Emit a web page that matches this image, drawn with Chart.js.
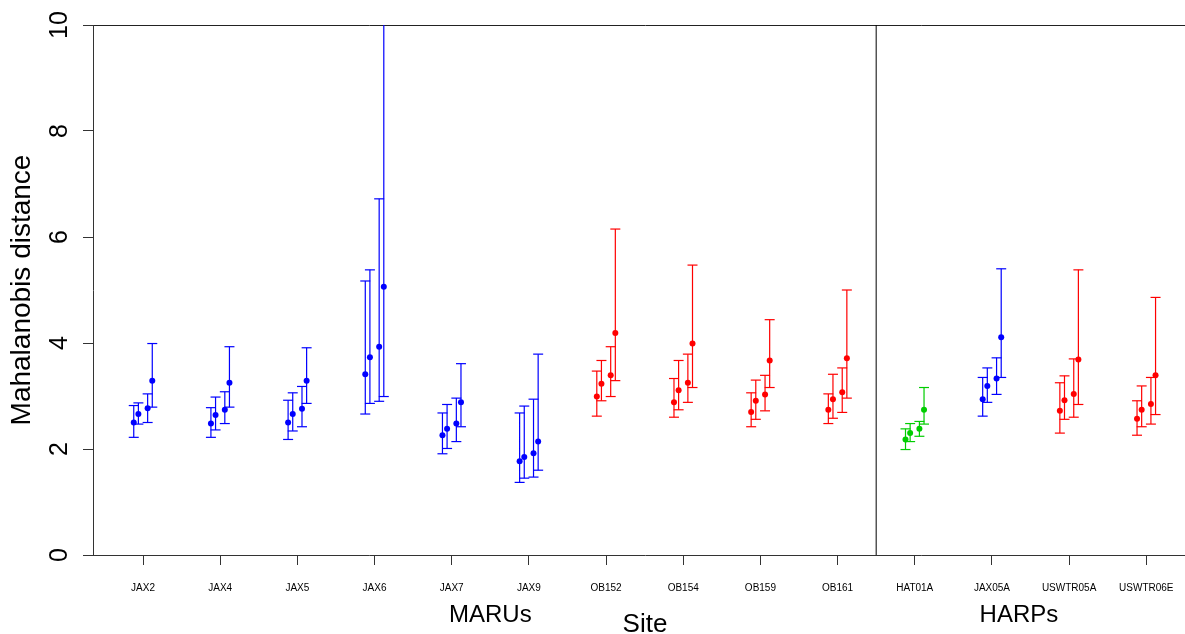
<!DOCTYPE html>
<html>
<head>
<meta charset="utf-8">
<script src="https://cdn.jsdelivr.net/npm/chart.js@4/dist/chart.umd.min.js"></script>
<style>
  html, body { margin: 0; padding: 0; background: #ffffff; overflow: hidden; }
  #wrap { width: 1197px; height: 634px; }
</style>
</head>
<body>
<div id="wrap"><canvas id="c" width="1197" height="634"></canvas></div>
<script>
// ---- data ----
const sites = ['JAX2','JAX4','JAX5','JAX6','JAX7','JAX9','OB152','OB154','OB159','OB161','HAT01A','JAX05A','USWTR05A','USWTR06E'];
const siteColors = ['#0000FF','#0000FF','#0000FF','#0000FF','#0000FF','#0000FF',
                    '#FF0000','#FF0000','#FF0000','#FF0000',
                    '#00CD00','#0000FF','#FF0000','#FF0000'];
const means = [
  [2.50, 2.66, 2.77, 3.29],
  [2.48, 2.64, 2.74, 3.25],
  [2.50, 2.66, 2.76, 3.29],
  [3.41, 3.73, 3.93, 5.06],
  [2.26, 2.38, 2.48, 2.88],
  [1.77, 1.85, 1.92, 2.14],
  [2.99, 3.23, 3.39, 4.19],
  [2.88, 3.11, 3.25, 3.99],
  [2.70, 2.91, 3.03, 3.67],
  [2.74, 2.94, 3.07, 3.71],
  [2.18, 2.30, 2.38, 2.74],
  [2.94, 3.19, 3.33, 4.11],
  [2.72, 2.92, 3.04, 3.69],
  [2.57, 2.74, 2.85, 3.39]
];
const lows = [
  [2.22, 2.47, 2.50, 2.79],
  [2.22, 2.36, 2.48, 2.79],
  [2.18, 2.34, 2.42, 2.86],
  [2.66, 2.86, 2.90, 2.99],
  [1.91, 2.01, 2.14, 2.42],
  [1.37, 1.45, 1.47, 1.60],
  [2.62, 2.91, 2.99, 3.29],
  [2.60, 2.74, 2.88, 3.16],
  [2.42, 2.56, 2.72, 3.16],
  [2.48, 2.58, 2.69, 2.96],
  [1.99, 2.14, 2.24, 2.47],
  [2.62, 2.88, 3.03, 3.35],
  [2.30, 2.56, 2.60, 2.84],
  [2.26, 2.42, 2.47, 2.65]
];
const highs = [
  [2.82, 2.87, 3.04, 3.99],
  [2.78, 2.98, 3.08, 3.93],
  [2.92, 3.06, 3.18, 3.91],
  [5.17, 5.38, 6.72, 12.5],
  [2.68, 2.84, 2.96, 3.61],
  [2.68, 2.81, 2.94, 3.79],
  [3.47, 3.67, 3.93, 6.15],
  [3.33, 3.67, 3.79, 5.47],
  [3.06, 3.30, 3.39, 4.44],
  [3.04, 3.41, 3.53, 5.00],
  [2.38, 2.48, 2.52, 3.16],
  [3.35, 3.53, 3.72, 5.40],
  [3.25, 3.38, 3.70, 5.38],
  [2.91, 3.19, 3.35, 4.86]
];
const groupLabels = ['MARUs', 'HARPs'];
const groupCenters = [4.5, 11.35];
const dividerAt = 9.5;
const yTicks = [0, 2, 4, 6, 8, 10];

// ---- build datasets ----
const offsets = [-0.12, -0.06, 0.06, 0.12];
const X_MIN = -0.648, X_MAX = 13.657;
const colorsUsed = [...new Set(siteColors)];
const whiskerSets = [], capSets = [], meanSets = [];
colorsUsed.forEach(col => {
  const w = [], caps = [], pts = [];
  sites.forEach((s, i) => {
    if (siteColors[i] !== col) return;
    for (let j = 0; j < 4; j++) {
      const x = i + offsets[j];
      w.push({x: x, y: lows[i][j]}, {x: x, y: highs[i][j]}, {x: x, y: null});
      caps.push({x: x, y: lows[i][j]}, {x: x, y: highs[i][j]});
      pts.push({x: x, y: means[i][j]});
    }
  });
  whiskerSets.push({type: 'line', data: w, borderColor: col, borderWidth: 1.2, pointRadius: 0, spanGaps: false, fill: false, tension: 0, order: 3});
  capSets.push({type: 'scatter', data: caps, pointStyle: 'line', pointRadius: 5, pointBorderWidth: 1.2, borderColor: col, backgroundColor: col, order: 2});
  meanSets.push({type: 'scatter', data: pts, pointStyle: 'circle', pointRadius: 3, pointBorderWidth: 0, borderColor: col, backgroundColor: col, order: 1});
});
const divider = {type: 'line', data: [{x: dividerAt, y: 0}, {x: dividerAt, y: 10}], borderColor: '#000000', borderWidth: 1, pointRadius: 0, order: 4};

const FONT = "'Liberation Sans', Arial, Helvetica, sans-serif";
const noSidePad = (sc) => { sc.paddingLeft = 0; sc.paddingRight = 0; };

new Chart(document.getElementById('c'), {
  type: 'scatter',
  data: { datasets: [divider, ...whiskerSets, ...capSets, ...meanSets] },
  options: {
    responsive: false,
    devicePixelRatio: 1,
    animation: false,
    events: [],
    layout: { autoPadding: false, padding: { top: 25, left: 0, right: 0, bottom: 0 } },
    plugins: { legend: { display: false }, tooltip: { enabled: false } },
    scales: {
      x: {
        type: 'linear', position: 'bottom', weight: 0,
        min: X_MIN, max: X_MAX,
        afterBuildTicks: (sc) => { sc.ticks = sites.map((_, i) => ({value: i})); },
        afterFit: (sc) => { sc.height = 40; noSidePad(sc); },
        grid: { drawOnChartArea: false, drawTicks: true, tickLength: 10, tickColor: '#333333', tickWidth: 1 },
        border: { display: true, color: '#333333', width: 1 },
        ticks: { autoSkip: false, maxRotation: 0, minRotation: 0, padding: 17, color: '#000000',
                 font: { family: FONT, size: 10, lineHeight: 1.2 },
                 callback: (v) => sites[Math.round(v)] }
      },
      x3: {
        type: 'linear', position: 'bottom', weight: 1,
        min: X_MIN, max: X_MAX,
        afterBuildTicks: (sc) => { sc.ticks = groupCenters.map(v => ({value: v})); },
        afterFit: (sc) => { sc.height = 39; noSidePad(sc); },
        grid: { display: false, drawTicks: false, drawOnChartArea: false },
        border: { display: false },
        ticks: { autoSkip: false, maxRotation: 0, minRotation: 0, padding: 5.6, color: '#000000',
                 font: { family: FONT, size: 24, lineHeight: 1.2 },
                 callback: (v) => { const k = groupCenters.indexOf(v); return k >= 0 ? groupLabels[k] : ''; } },
        title: { display: true, text: 'Site', color: '#000000', padding: 0,
                 font: { family: FONT, size: 26, lineHeight: 0.7 } }
      },
      x2: {
        type: 'linear', position: 'top',
        min: X_MIN, max: X_MAX,
        afterFit: (sc) => { sc.height = 0; noSidePad(sc); },
        grid: { display: false, drawTicks: false },
        border: { display: true, color: '#222222', width: 1 },
        ticks: { display: false }
      },
      y: {
        type: 'linear', position: 'left',
        min: 0, max: 10,
        afterBuildTicks: (sc) => { sc.ticks = yTicks.map(v => ({value: v})); },
        afterFit: (sc) => { sc.width = 93; sc.paddingTop = 0; sc.paddingBottom = 0; },
        grid: { drawOnChartArea: false, drawTicks: true, tickLength: 10, tickColor: '#333333', tickWidth: 1 },
        border: { display: true, color: '#333333', width: 1 },
        ticks: { minRotation: 90, maxRotation: 90, crossAlign: 'center', padding: 9, color: '#000000',
                 font: { family: FONT, size: 25, lineHeight: 1.2 } },
        title: { display: true, text: 'Mahalanobis distance', color: '#000000',
                 padding: { top: 5, bottom: 0 },
                 font: { family: FONT, size: 28, lineHeight: 1.2 } }
      }
    }
  }
});
</script>
</body>
</html>
